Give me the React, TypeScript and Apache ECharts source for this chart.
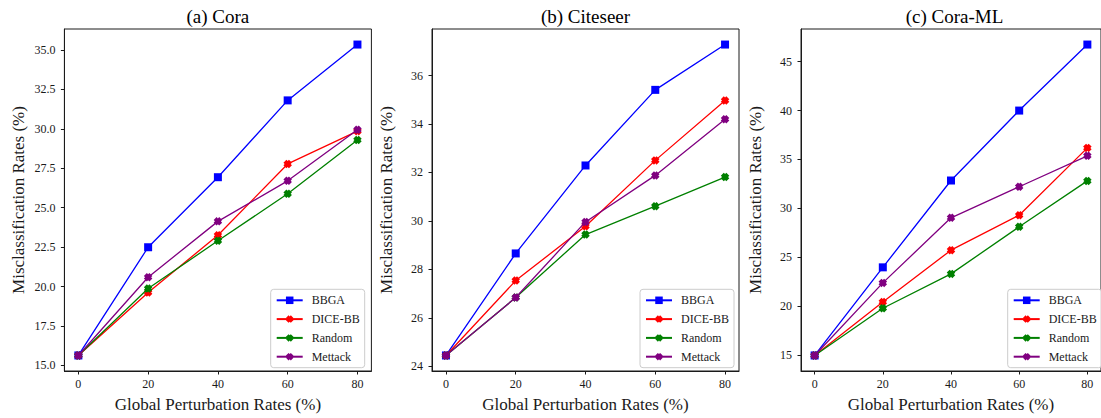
import React, { useEffect, useRef } from "react";
import * as echarts from "echarts";

const perturbationRates = [0, 20, 40, 60, 80];
const seriesNames = ["BBGA", "DICE-BB", "Random", "Mettack"];
const panelTitles = ["(a) Cora", "(b) Citeseer", "(c) Cora-ML"];

const coraBBGA = [15.63, 22.49, 26.93, 31.8, 35.34];
const coraDICE = [15.63, 19.62, 23.25, 27.77, 29.85];
const coraRandom = [15.63, 19.87, 22.9, 25.88, 29.29];
const coraMettack = [15.63, 20.59, 24.13, 26.7, 29.94];

const citeseerBBGA = [24.45, 28.66, 32.29, 35.41, 37.28];
const citeseerDICE = [24.45, 27.54, 29.78, 32.5, 34.97];
const citeseerRandom = [24.45, 26.84, 29.44, 30.61, 31.81];
const citeseerMettack = [24.45, 26.84, 29.96, 31.88, 34.2];

const coraMLBBGA = [14.93, 23.95, 32.84, 40.0, 46.76];
const coraMLDICE = [14.93, 20.4, 25.71, 29.29, 36.18];
const coraMLRandom = [14.93, 19.76, 23.28, 28.1, 32.8];
const coraMLMettack = [14.93, 22.36, 29.02, 32.2, 35.37];

const coraTicks = [15, 17.5, 20, 22.5, 25, 27.5, 30, 32.5, 35];
const citeseerTicks = [24, 26, 28, 30, 32, 34, 36];
const coraMLTicks = [15, 20, 25, 30, 35, 40, 45];

const panels = [
  { title: panelTitles[0], data: [coraBBGA, coraDICE, coraRandom, coraMettack], ticks: coraTicks, decimals: 1 },
  { title: panelTitles[1], data: [citeseerBBGA, citeseerDICE, citeseerRandom, citeseerMettack], ticks: citeseerTicks, decimals: 0 },
  { title: panelTitles[2], data: [coraMLBBGA, coraMLDICE, coraMLRandom, coraMLMettack], ticks: coraMLTicks, decimals: 0 },
];

const colors = ["#0000ff", "#ff0000", "#008000", "#800080"];
const xSymbol = "path://M0,3.5L3.5,0L5,1.5L6.5,0L10,3.5L8.5,5L10,6.5L6.5,10L5,8.5L3.5,10L0,6.5L1.5,5Z";
const symbols = ["rect", xSymbol, xSymbol, xSymbol];
const symbolSizes = [8, 8.5, 8.5, 8.5];

const FONT = "Liberation Serif";
const INK = "#1a1a1a";

const gridLefts = [64.4, 432, 801];
const gridTop = 29;
const gridWidth = 307;
const gridHeight = 345;
const legendLefts = [270.7, 640, 1007.7];

function buildOption() {
  const grids: any[] = [];
  const xAxes: any[] = [];
  const yAxes: any[] = [];
  const series: any[] = [];
  const legends: any[] = [];
  const graphics: any[] = [];

  panels.forEach((p, i) => {
    const all = p.data.flat();
    const lo = Math.min(...all);
    const hi = Math.max(...all);
    const pad = (hi - lo) * 0.05;
    grids.push({
      left: gridLefts[i],
      top: gridTop,
      width: gridWidth,
      height: gridHeight,
      show: true,
      borderColor: INK,
      borderWidth: 1,
      backgroundColor: "transparent",
      containLabel: false,
    });
    xAxes.push({
      type: "value",
      gridIndex: i,
      min: -4,
      max: 84,
      name: "Global Perturbation Rates (%)",
      nameLocation: "middle",
      nameGap: 25,
      nameTextStyle: { fontFamily: FONT, fontSize: 17, color: INK },
      axisLine: { show: true, onZero: false, lineStyle: { color: INK, width: 1 } },
      axisTick: { show: true, length: 3.5, lineStyle: { color: INK }, customValues: perturbationRates },
      axisLabel: { show: true, margin: 7, fontFamily: FONT, fontSize: 12, color: INK, customValues: perturbationRates, formatter: (v: number) => String(v) },
      splitLine: { show: false },
    });
    yAxes.push({
      type: "value",
      gridIndex: i,
      min: lo - pad,
      max: hi + pad,
      name: "Misclassification Rates (%)",
      nameLocation: "middle",
      nameGap: 37,
      nameTextStyle: { fontFamily: FONT, fontSize: 17, color: INK },
      axisLine: { show: true, onZero: false, lineStyle: { color: INK, width: 1 } },
      axisTick: { show: true, length: 3.5, lineStyle: { color: INK }, customValues: p.ticks },
      axisLabel: { show: true, margin: 9, fontFamily: FONT, fontSize: 12, color: INK, customValues: p.ticks, formatter: (v: number) => v.toFixed(p.decimals) },
      splitLine: { show: false },
    });
    p.data.forEach((vals, k) => {
      series.push({
        type: "line",
        name: seriesNames[k],
        xAxisIndex: i,
        yAxisIndex: i,
        data: perturbationRates.map((x, j) => [x, vals[j]]),
        symbol: symbols[k],
        symbolSize: symbolSizes[k],
        showAllSymbol: true,
        color: colors[k],
        itemStyle: { color: colors[k] },
        lineStyle: { color: colors[k], width: 1.3 },
        z: 2 + k,
      });
    });
    legends.push({
      orient: "vertical",
      left: legendLefts[i],
      top: 289.3,
      data: seriesNames,
      itemWidth: 26,
      itemHeight: 9.4,
      itemGap: 4.8,
      padding: [4, 5, 4, 5],
      borderColor: "#cccccc",
      borderWidth: 1,
      borderRadius: 3,
      backgroundColor: "rgba(255,255,255,0.8)",
      selectedMode: false,
      textStyle: { fontFamily: FONT, fontSize: 12, color: INK, lineHeight: 14, padding: [0, 0, 0, 4] },
    });
    graphics.push({
      type: "text",
      x: gridLefts[i] + gridWidth / 2,
      y: 16,
      style: {
        text: p.title,
        fontFamily: FONT,
        fontSize: 19,
        fill: "#000",
        align: "center",
        verticalAlign: "middle",
      },
    });
  });

  return {
    animation: false,
    backgroundColor: "#ffffff",
    textStyle: { fontFamily: FONT },
    grid: grids,
    xAxis: xAxes,
    yAxis: yAxes,
    series,
    legend: legends,
    graphic: graphics,
    tooltip: { show: false },
  };
}

export default function App() {
  const ref = useRef<HTMLDivElement>(null);
  useEffect(() => {
    if (!ref.current) return;
    const chart = echarts.init(ref.current, null, { renderer: "svg" });
    chart.setOption(buildOption());
    return () => chart.dispose();
  }, []);
  return (
    <div
      ref={ref}
      style={{ position: "absolute", left: 0, top: 0, width: 1101, height: 418, background: "#fff" }}
    />
  );
}
